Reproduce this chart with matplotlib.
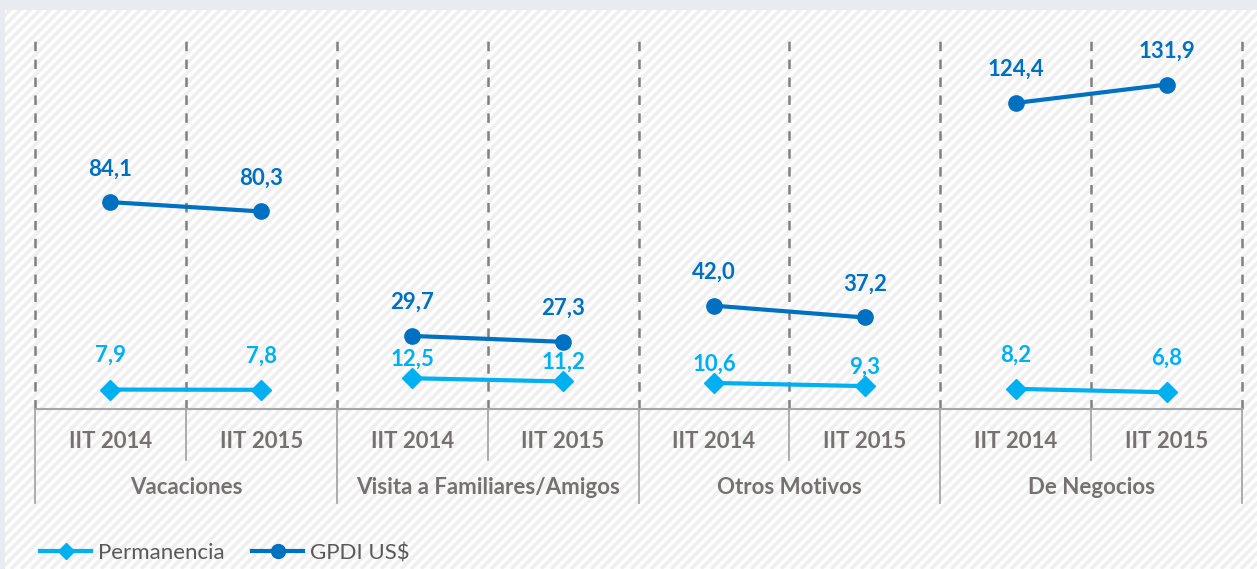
import matplotlib
matplotlib.use("Agg")
import matplotlib.pyplot as plt
import numpy as np
from matplotlib.lines import Line2D
from matplotlib.patches import Rectangle
import matplotlib.transforms as mtransforms

groups = ["Vacaciones", "Visita a Familiares/Amigos", "Otros Motivos", "De Negocios"]
periods = ["IIT 2014", "IIT 2015"]
permanencia = [[7.9, 7.8], [12.5, 11.2], [10.6, 9.3], [8.2, 6.8]]
gpdi = [[84.1, 80.3], [29.7, 27.3], [42.0, 37.2], [124.4, 131.9]]

LIGHT = "#00B0F0"
DARK = "#0070C0"
GRAY_TXT = "#767171"
FONT = "Lato"
FS = 16

plt.rcParams["font.family"] = [FONT, "DejaVu Sans"]
plt.rcParams["lines.scale_dashes"] = False

W, H = 1257, 569
fig = plt.figure(figsize=(W / 100, H / 100), dpi=100)
fig.patch.set_facecolor("#E8ECF1")

# background with diagonal stripes
bg = fig.add_axes([0, 0, 1, 1], zorder=0)
bg.set_xlim(0, W)
bg.set_ylim(H, 0)
bg.axis("off")
rect = Rectangle((5, 10), W - 5, H - 10, facecolor="white", edgecolor="none")
bg.add_patch(rect)
for c in np.arange(-H, W + H, 10):
    ln = Line2D([c, c + H], [H, 0], color="#EFEFEF", lw=2.6, solid_capstyle="butt")
    bg.add_line(ln)
    ln.set_clip_path(rect)

ax_l, ax_r, ax_b, ax_t = 35, 1242, 409, 40
ax = fig.add_axes([ax_l / W, 1 - ax_b / H, (ax_r - ax_l) / W, (ax_b - ax_t) / H], zorder=1)
ax.set_facecolor("none")
n = len(groups) * len(periods)
ax.set_xlim(-0.5, n - 0.5)
ax.set_ylim(0, 150)
for s in ["top", "right", "left"]:
    ax.spines[s].set_visible(False)
ax.spines["bottom"].set_color("#A6A6A6")
ax.spines["bottom"].set_linewidth(1.5)
ax.set_yticks([])
ax.set_xticks([])

# dashed separators
for b in np.arange(-0.5, n, 1):
    ax.axvline(b, color="#808080", lw=1.8, ls=(0, (6.8, 6.1)), zorder=1, clip_on=False)

perm_off = [34, 19, 19, 34]
for gi in range(len(groups)):
    xs = [gi * 2, gi * 2 + 1]
    ax.plot(xs, gpdi[gi], color=DARK, lw=3, marker="o", ms=11, zorder=3, clip_on=False)
    ax.plot(xs, permanencia[gi], color=LIGHT, lw=3, marker="D", ms=10, zorder=3, clip_on=False)
    for x, v in zip(xs, gpdi[gi]):
        ax.annotate(f"{v:.1f}".replace(".", ","), (x, v), xytext=(0, 24), textcoords="offset points",
                    ha="center", va="center", color=DARK, fontsize=FS, fontweight="bold")
    for x, v in zip(xs, permanencia[gi]):
        ax.annotate(f"{v:.1f}".replace(".", ","), (x, v), xytext=(0, perm_off[gi] * 0.72),
                    textcoords="offset points", ha="center", va="center", color=LIGHT,
                    fontsize=FS, fontweight="bold")

# category axis labels
tr = mtransforms.blended_transform_factory(ax.transData, ax.transAxes)
h_ax = ax_b - ax_t
for gi, g in enumerate(groups):
    for pi, p in enumerate(periods):
        ax.text(gi * 2 + pi, -32 / h_ax, p, transform=tr, ha="center", va="center",
                color=GRAY_TXT, fontsize=FS, fontweight="bold")
    ax.text(gi * 2 + 0.5, -79 / h_ax, g, transform=tr, ha="center", va="center",
            color=GRAY_TXT, fontsize=FS, fontweight="bold")
for b in np.arange(-0.5, n, 1):
    outer = (b + 0.5) % 2 == 0
    bottom = -94 / h_ax if outer else -51 / h_ax
    ax.plot([b, b], [0, bottom], transform=tr, color="#A6A6A6", lw=1.3, clip_on=False)

handles = [
    Line2D([], [], color=LIGHT, lw=3, marker="D", ms=8),
    Line2D([], [], color=DARK, lw=3, marker="o", ms=10),
]
fig.legend(handles, ["Permanencia", "GPDI US$"], loc="center left",
           bbox_to_anchor=(40 / W, 1 - 553 / H), ncol=2, frameon=False, fontsize=FS,
           handlelength=2.3, handletextpad=0.3, columnspacing=1.25, borderpad=0,
           borderaxespad=0, labelcolor="#595959")

fig.savefig("out.png", dpi=100, facecolor=fig.get_facecolor())
